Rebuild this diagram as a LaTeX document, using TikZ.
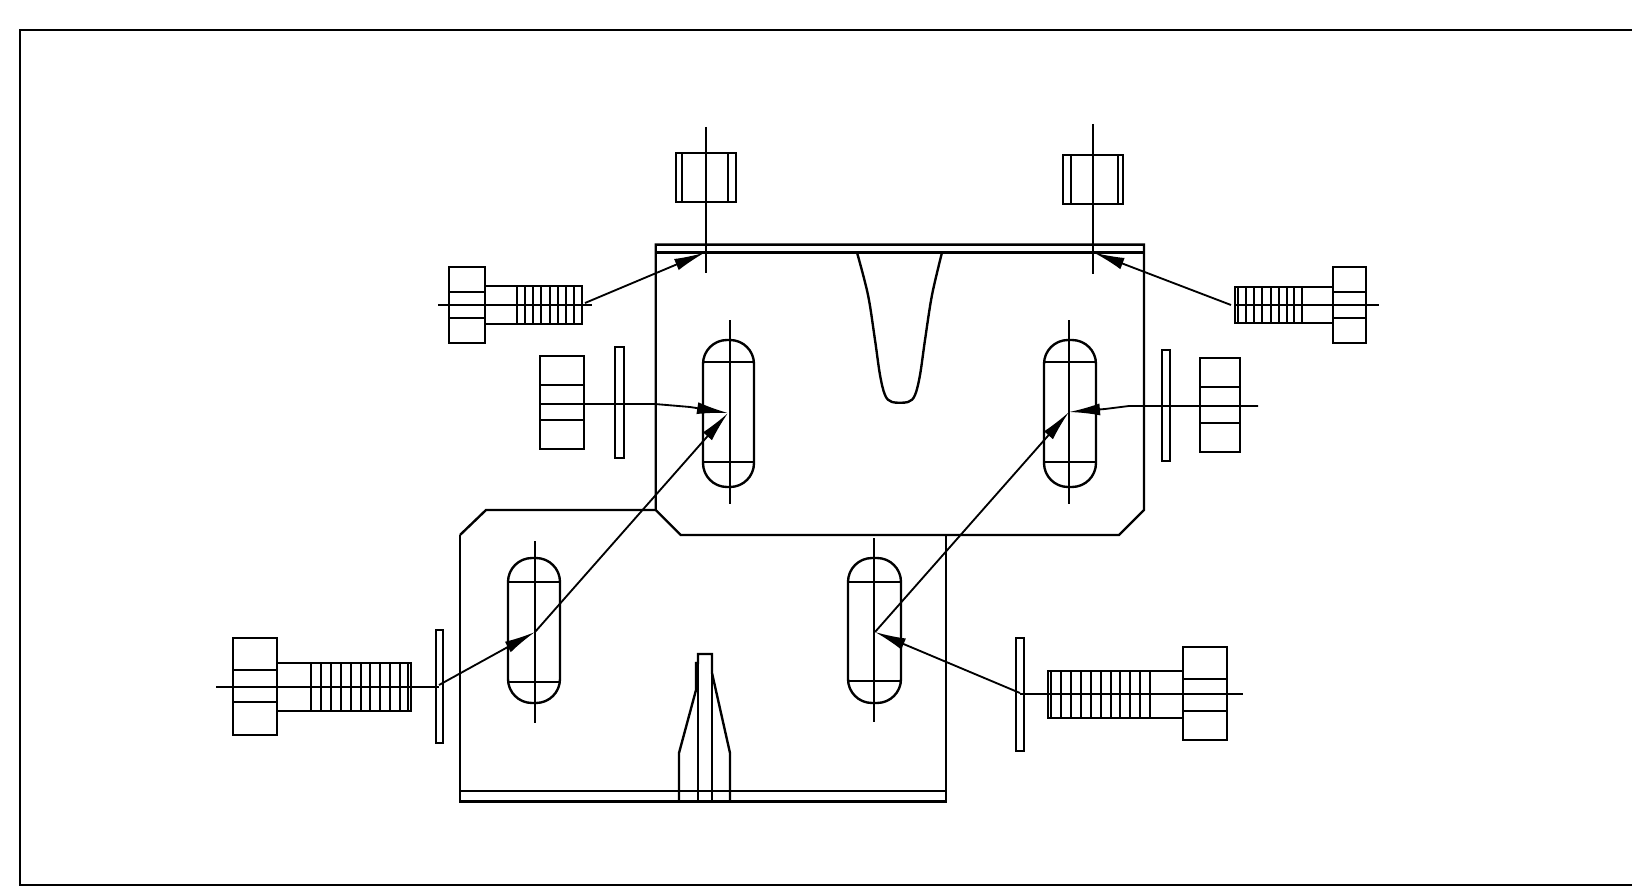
\documentclass[tikz,border=0pt]{standalone}
\usetikzlibrary{arrows.meta}

\begin{document}
\begin{tikzpicture}[x=0.02cm,y=-0.02cm,
   part/.style={draw=black,line width=1.35pt,fill=none},
   axisline/.style={draw=black,line width=1.2pt},
   threadline/.style={draw=black,line width=1.2pt},
   slotshape/.style={part,rounded corners=0.48cm},
   leader/.style={draw=black,line width=1.05pt,-{Latex[length=0.62cm,width=0.24cm]}}]
\useasboundingbox (0,0) rectangle (1632,895);
\fill[white] (0,0) rectangle (1632,895);
\draw[part] (1632,30) -- (20,30) -- (20,885) -- (1632,885);

\draw[part] (655.7,510) -- (655.7,244.6) -- (1144,244.6) -- (1144,510) -- (1119,535) -- (680.7,535) -- cycle;
\draw[part] (655.7,252.5) -- (1144,252.5);
\draw[part] plot[smooth,tension=0.55] coordinates {(857,252.5) (868,295) (875,340) (880,375) (885,395) (892,402) (908,402) (915,395) (920,375) (925,340) (932,295) (942,252.5)};

\draw[part] (460,535) -- (486,510) -- (655.7,510);
\draw[part] (460,535) -- (460,801.5) -- (946,801.5) -- (946,535);
\draw[part] (460,791) -- (946,791);
\draw[part] (679,801.5) -- (679,753) -- (696,690) -- (696,663) -- (698,663) -- (698,654) -- (712,654) -- (712,673) -- (730,753) -- (730,801.5);
\draw[part] (698,663) -- (698,801.5) (712,673) -- (712,801.5);

\draw[slotshape] (703,340) rectangle (754,487);
\draw[part] (703,362) -- (754,362) (703,462) -- (754,462);
\draw[axisline] (730,320) -- (730,504);
\draw[slotshape] (1044,340) rectangle (1096,487);
\draw[part] (1044,362) -- (1096,362) (1044,462) -- (1096,462);
\draw[axisline] (1069,320) -- (1069,504);
\draw[slotshape] (508,558) rectangle (560,703);
\draw[part] (508,582) -- (560,582) (508,682) -- (560,682);
\draw[axisline] (535,541) -- (535,723);
\draw[slotshape] (848,558) rectangle (901,703);
\draw[part] (848,582) -- (901,582) (848,681) -- (901,681);
\draw[axisline] (874,538) -- (874,722);

\draw[part] (676,153) rectangle (736,202);
\draw[part] (682,153) -- (682,202) (728,153) -- (728,202);
\draw[axisline] (706,127) -- (706,273);
\draw[part] (1063,155) rectangle (1123,204);
\draw[part] (1071,155) -- (1071,204) (1118,155) -- (1118,204);
\draw[axisline] (1093,124) -- (1093,274);

\draw[part] (449,267) rectangle (485,343);
\draw[part] (449,292) -- (485,292) (449,318) -- (485,318);
\draw[part] (485,286) -- (582,286) -- (582,324) -- (485,324);
\foreach \x in {517,525,533,541,550,558,566,574}
  \draw[threadline] (\x,286) -- (\x,324);
\draw[axisline] (438,305) -- (592,305);

\draw[part] (1333,267) rectangle (1366,343);
\draw[part] (1333,292) -- (1366,292) (1333,318) -- (1366,318);
\draw[part] (1333,287) -- (1235,287) -- (1235,323) -- (1333,323);
\foreach \x in {1238,1246,1254,1262,1271,1279,1287,1294,1302}
  \draw[threadline] (\x,287) -- (\x,323);
\draw[axisline] (1235,305) -- (1379,305);

\draw[part] (540,356) rectangle (584,449);
\draw[part] (540,385) -- (584,385) (540,420) -- (584,420);
\draw[part] (615,347) rectangle (624,458);
\draw[part] (1162,350) rectangle (1170,461);
\draw[part] (1200,358) rectangle (1240,452);
\draw[part] (1200,387) -- (1240,387) (1200,423) -- (1240,423);

\draw[part] (233,638) rectangle (277,735);
\draw[part] (233,670) -- (277,670) (233,702) -- (277,702);
\draw[part] (277,663) -- (411,663) -- (411,711) -- (277,711);
\foreach \x in {311,321,331,341,351,361,370,380,390,400,408}
  \draw[threadline] (\x,663) -- (\x,711);
\draw[axisline] (216,687) -- (439,687);
\draw[part] (436,630) rectangle (443,743);

\draw[part] (1183,647) rectangle (1227,740);
\draw[part] (1183,679) -- (1227,679) (1183,711) -- (1227,711);
\draw[part] (1183,671) -- (1048,671) -- (1048,718) -- (1183,718);
\foreach \x in {1051,1061,1071,1081,1091,1101,1111,1120,1130,1140,1150}
  \draw[threadline] (\x,671) -- (\x,718);
\draw[axisline] (1020,694) -- (1243,694);
\draw[part] (1016,638) rectangle (1024,751);

\coordinate (boltTL) at (585,303);
\coordinate (holeTL) at (705,252.5);
\coordinate (boltTR) at (1231,305);
\coordinate (holeTR) at (1093.5,252.5);
\coordinate (nutL) at (540,404);
\coordinate (plateL) at (655,404);
\coordinate (bendL) at (690,407);
\coordinate (slotTL) at (728,413);
\coordinate (nutR) at (1258,406);
\coordinate (plateR) at (1129,406);
\coordinate (bendR) at (1105,409);
\coordinate (slotTR) at (1069,412);
\coordinate (washerBL) at (439,685);
\coordinate (slotBL) at (535,632);
\coordinate (washerBR) at (1020,693);
\coordinate (slotBR) at (875,632);

\draw[leader] (boltTL) -- (holeTL);
\draw[leader] (boltTR) -- (holeTR);
\draw[leader] (nutL) -- (plateL) -- (bendL) -- (slotTL);
\draw[leader] (nutR) -- (plateR) -- (bendR) -- (slotTR);
\draw[leader] (washerBL) -- (slotBL);
\draw[leader] (slotBL) -- (slotTL);
\draw[leader] (washerBR) -- (slotBR);
\draw[leader] (slotBR) -- (slotTR);
\end{tikzpicture}
\end{document}
